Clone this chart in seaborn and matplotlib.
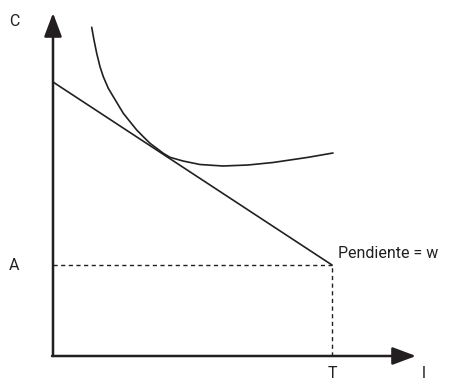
import matplotlib
matplotlib.use("Agg")
import matplotlib.pyplot as plt
import seaborn as sns
import pandas as pd

# Data (origin at the axes corner)
curve_x = [38.7, 41, 43.7, 47, 50.3, 55.3, 60.3, 65.3, 70.3, 77, 83.7, 90.3, 97, 103.7,
           110.3, 117, 130, 147, 170, 195, 220, 254, 280]
curve_y = [328.7, 316, 302.7, 289.3, 279.3, 267.7, 259.3, 251, 242.7, 234.3, 226, 219.3,
           212.7, 207.7, 202.7, 198.7, 195, 191.5, 190, 191, 193.5, 198.5, 203]
budget_x = [0, 279]
budget_y = [274, 91]
A_value = 91
T_value = 279
axis_labels = {"C": "C", "A": "A", "T": "T", "l": "l"}
slope_label = "Pendiente = w"

sns.set_theme(style="white")
plt.rcParams["font.family"] = ["Roboto", "DejaVu Sans"]

fig = plt.figure(figsize=(4.49, 3.81), dpi=100)
ax = fig.add_axes([0, 0, 1, 1])
ax.set_xlim(-53, 396)
ax.set_ylim(-25, 356)
ax.axis("off")

ink = "#231f20"

curve_df = pd.DataFrame({"x": curve_x, "y": curve_y})
sns.lineplot(data=curve_df, x="x", y="y", sort=False, color=ink, lw=1.2, ax=ax)
line_df = pd.DataFrame({"x": budget_x, "y": budget_y})
sns.lineplot(data=line_df, x="x", y="y", sort=False, color=ink, lw=1.2, ax=ax)

# dashed guides
ax.plot([0, T_value], [A_value, A_value], color=ink, lw=1.0, ls=(0, (3, 2.5)))
ax.plot([T_value, T_value], [0, A_value], color=ink, lw=1.0, ls=(0, (3, 2.5)))

# axes with arrows
ax.annotate("", xy=(0, 343), xytext=(0, 0),
            arrowprops=dict(arrowstyle="-|>,head_length=1.2,head_width=0.45", color=ink, lw=1.8,
                            shrinkA=0, shrinkB=0))
ax.annotate("", xy=(363, 0), xytext=(-1, 0),
            arrowprops=dict(arrowstyle="-|>,head_length=1.2,head_width=0.45", color=ink, lw=1.8,
                            shrinkA=0, shrinkB=0))

fs = 11.5
ax.text(-39, 334, axis_labels["C"], fontsize=fs, color=ink, ha="center", va="center")
ax.text(-39, A_value, axis_labels["A"], fontsize=fs, color=ink, ha="center", va="center")
ax.text(T_value, -17, axis_labels["T"], fontsize=fs, color=ink, ha="center", va="center")
ax.text(371, -17, axis_labels["l"], fontsize=fs, color=ink, ha="center", va="center")
ax.text(285, 102, slope_label, fontsize=fs, color=ink, ha="left", va="center")

fig.savefig("out.png", dpi=100)
